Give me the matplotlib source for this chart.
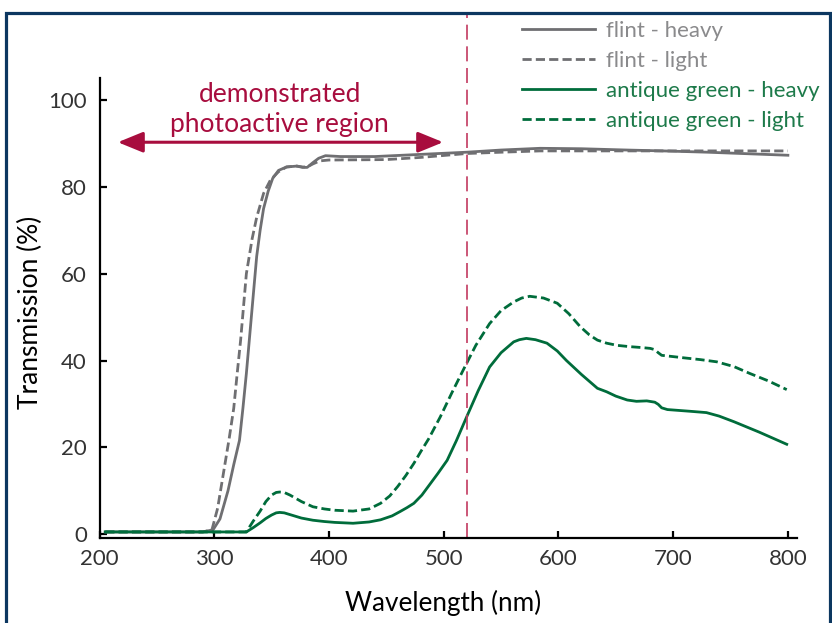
import numpy as np
import matplotlib
matplotlib.use("Agg")
from matplotlib import pyplot as plt
from matplotlib.patches import Rectangle, FancyArrowPatch

plt.rcParams['font.family'] = ['Lato', 'DejaVu Sans']

# values
flint_heavy_nm = [205, 290, 299, 305, 312, 317, 322, 325, 328, 333, 337, 340, 343, 347, 351, 356,
                  363, 372, 377, 381, 386, 391, 397, 410, 440, 480, 520, 550, 584, 620, 660, 691,
                  730, 770, 800]
flint_heavy_t = [0.5, 0.5, 1, 3.5, 10, 16, 21.6, 29, 37, 52, 64, 70, 75, 79, 82, 83.8,
                 84.6, 84.8, 84.5, 84.5, 85.6, 86.6, 87.2, 87, 87, 87.5, 88, 88.5, 88.9, 88.8, 88.5, 88.3,
                 88, 87.6, 87.3]

flint_light_nm = [205, 290, 298, 303, 308, 313, 317, 320, 323, 328, 333, 337, 343, 349, 356, 363,
                  372, 377, 381, 386, 392, 400, 450, 480, 520, 550, 584, 650, 720, 800]
flint_light_t = [0.5, 0.5, 1, 6, 14, 22, 29, 37, 44.7, 60, 68, 73, 78.5, 81.6, 83.5, 84.6,
                 84.8, 84.6, 84.6, 85.3, 86, 86.2, 86.3, 86.8, 87.7, 88, 88.3, 88.3, 88.3, 88.3]

green_heavy_nm = [205, 300, 328, 334, 340, 345, 350, 354, 357, 361, 366, 376, 386, 396, 405, 421,
                  435, 445, 455, 462, 468, 474, 481, 488, 495, 503, 511, 520, 530, 540, 550,
                  561, 566, 572, 580, 590, 599, 607, 620, 634, 638, 642, 650, 660, 668, 677,
                  684, 687, 690, 695, 700, 715, 729, 740, 753, 775, 799]
green_heavy_t = [0.5, 0.5, 0.5, 1.5, 2.6, 3.6, 4.4, 4.9, 5, 4.9, 4.5, 3.7, 3.2, 2.9, 2.7, 2.5,
                 2.8, 3.3, 4.2, 5.2, 6.1, 7.1, 9, 11.5, 14, 17, 21.5, 27, 33, 38.5, 41.8,
                 44.3, 44.8, 45.1, 44.8, 44, 42.2, 40, 36.8, 33.6, 33.2, 32.8, 31.8, 30.9, 30.6, 30.7,
                 30.4, 29.9, 29.1, 28.7, 28.6, 28.3, 28, 27.2, 25.9, 23.5, 20.7]

green_light_nm = [205, 300, 328, 334, 340, 345, 350, 354, 357, 361, 366, 376, 386, 396, 405, 421,
                  435, 445, 453, 460, 467, 474, 480, 487, 492, 497, 507, 517, 528, 540, 550,
                  561, 568, 575, 587, 599, 609, 619, 627, 634, 642, 651, 662, 672, 680, 684,
                  687, 690, 700, 710, 724, 738, 753, 767, 783, 799]
green_light_t = [0.5, 0.5, 0.5, 3, 5.3, 7.5, 9, 9.6, 9.7, 9.6, 9, 7.5, 6.3, 5.8, 5.5, 5.3,
                 5.8, 7.1, 8.8, 11, 13.5, 16.3, 19, 22, 24.5, 27, 32.5, 37.8, 43.5, 48.5, 51.5,
                 53.5, 54.4, 54.8, 54.4, 53.2, 50.8, 47.8, 45.9, 44.7, 44, 43.5, 43.2, 43, 42.8, 42.5,
                 41.8, 41.2, 40.9, 40.6, 40.2, 39.7, 38.6, 37, 35.3, 33.3]

labels = ['flint - heavy', 'flint - light', 'antique green - heavy', 'antique green - light']

gray = '#6f6f72'
gray_txt = '#8a8a8c'
green = '#006c3b'
green_txt = '#1d7a4a'
crimson = '#a80d3e'

fig = plt.figure(figsize=(8.32, 6.23), dpi=100)
ax = fig.add_axes([0.1196, 0.1364, 0.8384, 0.7384])

ax.plot(flint_heavy_nm, flint_heavy_t, color=gray, lw=2.0, label=labels[0])
ax.plot(flint_light_nm, flint_light_t, color=gray, lw=2.0, ls=(0, (3.3, 1.5)), label=labels[1])
ax.plot(green_heavy_nm, green_heavy_t, color=green, lw=2.0, label=labels[2])
ax.plot(green_light_nm, green_light_t, color=green, lw=2.0, ls=(0, (3.3, 1.5)), label=labels[3])

ax.set_xlim(200, 808)
ax.set_ylim(-0.9, 105.1)
ax.set_xticks([200, 300, 400, 500, 600, 700, 800])
ax.set_yticks([0, 20, 40, 60, 80, 100])
ax.tick_params(direction='in', length=5, width=1.6, labelsize=16, colors='black')
ax.tick_params(axis='x', pad=8)
ax.tick_params(axis='y', pad=9)
for lab in ax.get_xticklabels() + ax.get_yticklabels():
    lab.set_color('#333333')
for s in ['top', 'right']:
    ax.spines[s].set_visible(False)
for s in ['left', 'bottom']:
    ax.spines[s].set_linewidth(1.6)

ax.set_xlabel('Wavelength (nm)', fontsize=18.8, va='center')
ax.set_ylabel('Transmission (%)', fontsize=19, va='center')
ax.xaxis.set_label_coords(0.4925, -0.141)
ax.yaxis.set_label_coords(-0.0996, 0.49)

# vertical marker
ax.plot([520, 520], [-0.9, 120], color='#c23a60', lw=1.2, ls=(0, (9, 4)), clip_on=False)

# photoactive region arrow
arr = FancyArrowPatch((216, 90.3), (499.5, 90.3), arrowstyle='<|-|>,head_length=1.1,head_width=0.45',
                      color=crimson, lw=2.2, mutation_scale=14, shrinkA=0, shrinkB=0)
ax.add_patch(arr)
ax.text(357, 101.4, 'demonstrated', color=crimson, fontsize=19, ha='center', va='center')
ax.text(357, 94.5, 'photoactive region', color=crimson, fontsize=19, ha='center', va='center')

leg = ax.legend(loc='upper left', bbox_to_anchor=(522 / 832, 1 - 21 / 623), bbox_transform=fig.transFigure,
                frameon=False, fontsize=16, handlelength=3.3, handletextpad=0.5, labelspacing=0.45,
                borderaxespad=0, borderpad=0, labelcolor=[gray_txt, gray_txt, green_txt, green_txt])

# frame around the figure
fig.patches.append(Rectangle((6 / 832, -0.05), 824 / 832, 1.05 - 13 / 623, transform=fig.transFigure,
                             fill=False, edgecolor='#0c3760', lw=2.3))

plt.savefig('out.png', dpi=100)
